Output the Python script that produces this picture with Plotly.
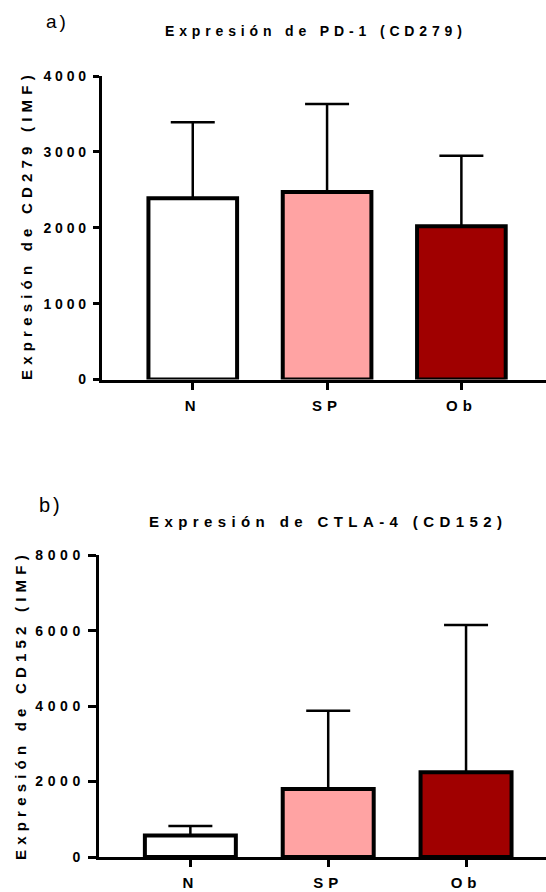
import plotly.graph_objects as go

categories = ["N", "SP", "Ob"]
pd1_mean = [2390, 2470, 2020]
pd1_sd = [1000, 1160, 930]
ctla4_mean = [570, 1800, 2250]
ctla4_sd = [250, 2080, 3900]
bar_colors = ["#FFFFFF", "#FFA3A3", "#A00000"]
pd1_ticks = [0, 1000, 2000, 3000, 4000]
ctla4_ticks = [0, 2000, 4000, 6000, 8000]

W, H = 546, 892
FONT = "Liberation Sans, Arial, sans-serif"


def sp(text, ls, bold=True):
    s = '<span style="letter-spacing:%spx">%s</span>' % (ls, text)
    return "<b>%s</b>" % s if bold else s


def px(x):
    return x / W


def py(y):
    return 1 - y / H


fig = go.Figure()

for vals, sds, xa, ya in [(pd1_mean, pd1_sd, "x", "y"), (ctla4_mean, ctla4_sd, "x2", "y2")]:
    fig.add_trace(go.Bar(
        x=[0, 1, 2], y=vals, width=0.66,
        marker=dict(color=bar_colors, line=dict(color="black", width=4)),
        error_y=dict(type="data", array=sds, arrayminus=[0, 0, 0], symmetric=False,
                     color="black", thickness=2.5, width=22),
        xaxis=xa, yaxis=ya, showlegend=False,
    ))

axis_common = dict(showline=True, linewidth=3, linecolor="black", ticks="outside",
                   tickwidth=3, tickcolor="black", showgrid=False, zeroline=False,
                   automargin=False, fixedrange=True)

cat_text = [sp(c, 5) for c in categories]

fig.update_layout(
    width=W, height=H, margin=dict(l=0, r=0, t=0, b=0),
    paper_bgcolor="white", plot_bgcolor="white",
    font=dict(family=FONT, color="black"),
    xaxis=dict(domain=[px(101.7), 1], range=[-0.678, 2.63], anchor="y",
               tickvals=[0, 1, 2], ticktext=cat_text, ticklen=7, ticklabelstandoff=3,
               tickfont=dict(size=15, family=FONT, color="black"), **axis_common),
    yaxis=dict(domain=[py(379.5), py(76)], range=[0, 4000], anchor="x",
               tickvals=pd1_ticks, ticktext=[sp(str(t), 3.8) for t in pd1_ticks],
               ticklen=6, tickfont=dict(size=14, family=FONT, color="black"), **axis_common),
    xaxis2=dict(domain=[px(98.7), 1], range=[-0.665, 2.58], anchor="y2",
                tickvals=[0, 1, 2], ticktext=cat_text, ticklen=7, ticklabelstandoff=3,
                tickfont=dict(size=15, family=FONT, color="black"), **axis_common),
    yaxis2=dict(domain=[py(857), py(555.3)], range=[0, 8000], anchor="x2",
                tickvals=ctla4_ticks, ticktext=[sp(str(t), 4.6) for t in ctla4_ticks],
                ticklen=8, tickfont=dict(size=14, family=FONT, color="black"), **axis_common),
)

annos = [
    dict(text=sp("a)", 3, bold=False), x=px(57), y=py(22), font=dict(size=19)),
    dict(text=sp("Expresión de PD-1 (CD279)", 4.85), x=px(316), y=py(31),
         font=dict(size=14)),
    dict(text=sp("Expresión de CD279 (IMF)", 5.2), x=px(26), y=py(225),
         font=dict(size=15), textangle=-90),
    dict(text=sp("b)", 3, bold=False), x=px(51), y=py(505), font=dict(size=20)),
    dict(text=sp("Expresión de CTLA-4 (CD152)", 5.4), x=px(328), y=py(521),
         font=dict(size=15)),
    dict(text=sp("Expresión de CD152 (IMF)", 5.2), x=px(20), y=py(705),
         font=dict(size=15), textangle=-90),
]
for a in annos:
    a["font"]["family"] = FONT
    a["font"]["color"] = "black"
    fig.add_annotation(xref="paper", yref="paper", xanchor="center", yanchor="middle",
                       showarrow=False, **a)

fig.write_html("out.html", config={"displayModeBar": False})
